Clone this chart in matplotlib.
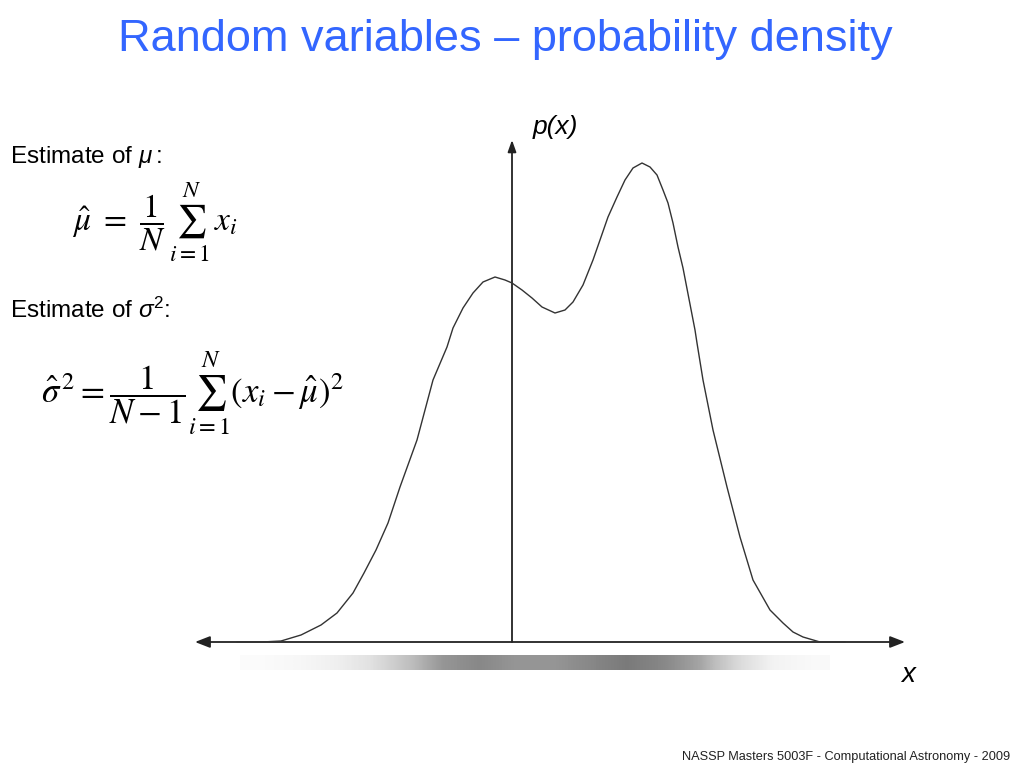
import matplotlib
matplotlib.use("Agg")
import matplotlib.pyplot as plt
import numpy as np

plt.rcParams["font.family"] = ["Liberation Sans", "DejaVu Sans"]
plt.rcParams["mathtext.fontset"] = "custom"
plt.rcParams["mathtext.rm"] = "Liberation Sans"
plt.rcParams["mathtext.it"] = "Liberation Sans:italic"

TITLE = "Random variables \u2013 probability density"
FOOTER = "NASSP Masters 5003F - Computational Astronomy - 2009"

# density curve p(x) (vertical axis sits at x = 0)
x_vals = [-2.75, -2.50, -2.31, -2.11, -1.91, -1.75, -1.59, -1.48, -1.36, -1.24,
          -1.12, -0.95, -0.79, -0.65, -0.59, -0.49, -0.39, -0.29, -0.17, -0.07,
          0.00, 0.10, 0.20, 0.30, 0.43, 0.53, 0.61, 0.71, 0.81, 0.88,
          0.96, 1.05, 1.13, 1.21, 1.30, 1.38, 1.45, 1.51, 1.56, 1.61,
          1.66, 1.71, 1.83, 1.85, 1.91, 2.01, 2.15, 2.28, 2.41, 2.58,
          2.71, 2.81, 2.91, 3.08, 3.33]
p_vals = [0.00, 0.00, 0.01, 0.07, 0.17, 0.29, 0.49, 0.69, 0.92, 1.19,
          1.55, 2.02, 2.62, 2.95, 3.14, 3.34, 3.49, 3.60, 3.65, 3.62,
          3.59, 3.52, 3.44, 3.35, 3.29, 3.32, 3.40, 3.57, 3.82, 4.02,
          4.25, 4.45, 4.62, 4.74, 4.79, 4.75, 4.67, 4.52, 4.39, 4.19,
          3.95, 3.74, 3.12, 2.99, 2.62, 2.12, 1.55, 1.05, 0.62, 0.32,
          0.19, 0.10, 0.05, 0.00, 0.00]

# darkness of the sample strip under the axis
strip_density = [0.03, 0.06, 0.12, 0.20, 0.35, 0.50, 0.55, 0.50,
                 0.50, 0.55, 0.60, 0.55, 0.45, 0.25, 0.10, 0.05]

fig = plt.figure(figsize=(10.24, 7.68), dpi=100)
ax = fig.add_axes([0, 0, 1, 1])
ax.set_xlim(-5.12, 5.12)
ax.set_ylim(-1.26, 6.42)
ax.axis("off")

# sample strip
ax.imshow(np.array([strip_density]), cmap="Greys", vmin=0, vmax=1,
          aspect="auto", interpolation="bilinear",
          extent=(-2.72, 3.18, -0.28, -0.13), zorder=1)

# axes with arrows
ax.annotate("", xy=(3.93, 0), xytext=(-3.17, 0),
            arrowprops=dict(arrowstyle="<|-|>,head_length=0.9,head_width=0.35",
                            lw=1.3, color="#222222", shrinkA=0, shrinkB=0))
ax.annotate("", xy=(0, 5.02), xytext=(0, 0),
            arrowprops=dict(arrowstyle="-|>,head_length=0.7,head_width=0.25",
                            lw=1.3, color="#222222", shrinkA=0, shrinkB=0))

ax.plot(x_vals, p_vals, color="#333333", lw=1.0, zorder=3,
        solid_joinstyle="round", solid_capstyle="round")

fig.text(0.493, 0.948, TITLE, color="#3366FF", fontsize=32.5,
         ha="center", va="center")

fig.text(0.01, 0.796, r"Estimate of $\mathit{\mu:}$", fontsize=17.5, va="center")
fig.text(0.151, 0.711, r"$\hat{\mu}\ =\ \dfrac{1}{N}\,\sum_{i=1}^{N}\, x_i$",
         fontsize=24, math_fontfamily="stix", ha="center", va="center")

fig.text(0.01, 0.596, r"Estimate of $\sigma^2$:", fontsize=17.5, va="center")
fig.text(0.1875, 0.488,
         r"$\hat{\sigma}^{\,2} = \dfrac{1}{N-1}\sum_{i=1}^{N}\left(x_i - \hat{\mu}\right)^2$",
         fontsize=25, math_fontfamily="stix", ha="center", va="center")

fig.text(0.542, 0.835, "p(x)", fontsize=19, style="italic",
         ha="center", va="center")
fig.text(0.887, 0.121, "x", fontsize=20, style="italic",
         ha="center", va="center")

fig.text(0.986, 0.014, FOOTER, fontsize=9.2, ha="right", va="center",
         color="#222222")

fig.savefig("out.png", dpi=100)
